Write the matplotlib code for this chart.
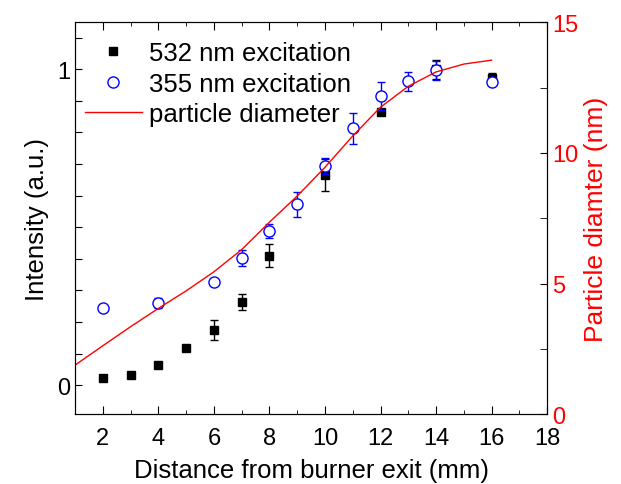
import numpy as np
import matplotlib.pyplot as plt
from matplotlib.lines import Line2D
from matplotlib.ticker import MultipleLocator, FuncFormatter

plt.rcParams['font.family'] = ['Liberation Sans', 'DejaVu Sans']

# 532 nm excitation (black squares)
x532 = [2, 3, 4, 5, 6, 7, 8, 10, 12, 14, 16]
y532 = [0.022, 0.032, 0.063, 0.117, 0.174, 0.262, 0.41, 0.665, 0.864, 1.0, 0.972]
e532 = [0.004, 0.004, 0.006, 0.008, 0.032, 0.025, 0.036, 0.05, 0.01, 0.03, 0.015]

# 355 nm excitation (blue open circles)
x355 = [2, 4, 6, 7, 8, 9, 10, 11, 12, 13, 14, 16]
y355 = [0.244, 0.26, 0.326, 0.402, 0.487, 0.573, 0.693, 0.813, 0.915, 0.962, 0.997, 0.96]
e355 = [0.01, 0.015, 0.008, 0.025, 0.022, 0.04, 0.025, 0.05, 0.045, 0.03, 0.03, 0.01]

# particle diameter (nm), red line on right axis
xd = [1, 2, 3, 4, 5, 6, 7, 8, 9, 10, 11, 12, 13, 14, 15, 16]
dd = [1.88, 2.62, 3.35, 4.05, 4.72, 5.45, 6.3, 7.35, 8.35, 9.45, 10.65, 11.75, 12.55, 13.1, 13.4, 13.55]

fig = plt.figure(figsize=(6.21, 4.85), dpi=100)
ax = fig.add_axes([0.121, 0.144, 0.76, 0.808])
ax2 = ax.twinx()

ax.errorbar(x532, y532, yerr=e532, fmt='s', color='black', ms=6, capsize=3,
            elinewidth=1, zorder=3)
ax.errorbar(x355, y355, yerr=e355, fmt='o', color='blue', mfc='white', mec='blue',
            ms=8, mew=1, capsize=3, elinewidth=1, zorder=4)
ax2.plot(xd, dd, color='red', lw=1)

ax.set_xlim(1, 18)
ax.set_ylim(-0.092, 1.149)
ax2.set_ylim(0, 15)

ax.xaxis.set_major_locator(MultipleLocator(2))
ax.xaxis.set_minor_locator(MultipleLocator(1))
ax.yaxis.set_major_locator(MultipleLocator(0.1))
ax.yaxis.set_major_formatter(FuncFormatter(
    lambda v, p: '0' if abs(v) < 1e-6 else ('1' if abs(v - 1) < 1e-6 else '')))
ax2.yaxis.set_major_locator(MultipleLocator(5))
ax2.yaxis.set_minor_locator(MultipleLocator(2.5))

ax.tick_params(axis='x', which='both', direction='in', top=True, labelsize=17, pad=9)
ax.tick_params(axis='x', which='major', length=6)
ax.tick_params(axis='x', which='minor', length=3)
ax.tick_params(axis='y', which='both', direction='in', length=5, labelsize=17)
ax2.tick_params(axis='y', which='both', direction='in', length=5, labelsize=17,
                labelcolor='red', colors='black')
for t in ax2.get_yticklabels():
    t.set_color('red')

ax.set_xlabel('Distance from burner exit (mm)', fontsize=18.5, labelpad=7)
ax.set_ylabel('Intensity (a.u.)', fontsize=18.5, labelpad=6)
ax2.set_ylabel('Particle diamter (nm)', fontsize=19, color='red', labelpad=4)

handles = [
    Line2D([], [], ls='none', marker='s', color='black', ms=6),
    Line2D([], [], ls='none', marker='o', mfc='white', mec='blue', ms=8),
    Line2D([], [], color='red', lw=1),
]
labels = ['532 nm excitation', '355 nm excitation', 'particle diameter']
ax.legend(handles, labels, loc='upper left', frameon=False, fontsize=18.5,
          handlelength=2.25, handletextpad=0.25, borderaxespad=0.0,
          labelspacing=0.25, borderpad=0.0, bbox_to_anchor=(0.02, 0.952))

fig.savefig('out.png', dpi=100)
